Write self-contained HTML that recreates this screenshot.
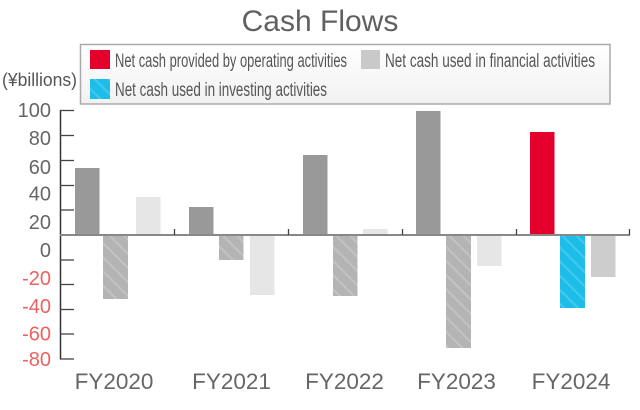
<!DOCTYPE html>
<html>
<head>
<meta charset="utf-8">
<style>
html,body{margin:0;padding:0;background:#fff;}
svg{display:block;}
text{font-family:"Liberation Sans",sans-serif;}
</style>
</head>
<body>
<svg width="640" height="410" viewBox="0 0 640 410" xmlns="http://www.w3.org/2000/svg">
<defs>
  <pattern id="hg" patternUnits="userSpaceOnUse" width="10" height="10" patternTransform="rotate(-45)">
    <rect width="10" height="10" fill="#b4b4b4"/>
    <rect x="0" y="0" width="2" height="10" fill="#c2c2c2"/>
  </pattern>
  <pattern id="hb" patternUnits="userSpaceOnUse" width="10" height="10" patternTransform="rotate(-45)">
    <rect width="10" height="10" fill="#1dbde9"/>
    <rect x="0" y="0" width="2" height="10" fill="#45c8ee"/>
  </pattern>
  <linearGradient id="lg" x1="0" y1="0" x2="0" y2="1">
    <stop offset="0" stop-color="#ffffff"/>
    <stop offset="1" stop-color="#f1f1f1"/>
  </linearGradient>
</defs>

<!-- Title -->
<text x="320" y="31" font-size="30" fill="#606060" text-anchor="middle">Cash Flows</text>

<!-- unit label -->
<text x="2" y="86" font-size="18" fill="#555" textLength="75" lengthAdjust="spacingAndGlyphs">(¥billions)</text>

<!-- Legend -->
<rect x="80.5" y="44.5" width="529.5" height="59.5" fill="url(#lg)" stroke="#aaa" stroke-width="1.5"/>
<rect x="90" y="50" width="20" height="19" fill="#e4002b"/>
<text x="115" y="67" font-size="19" fill="#555" textLength="232" lengthAdjust="spacingAndGlyphs">Net cash provided by operating activities</text>
<rect x="361" y="50" width="19" height="19" fill="#c9c9c9"/>
<text x="385" y="67" font-size="19" fill="#555" textLength="210" lengthAdjust="spacingAndGlyphs">Net cash used in financial activities</text>
<rect x="90" y="79" width="20" height="20" fill="url(#hb)"/>
<text x="115" y="96" font-size="19" fill="#555" textLength="212" lengthAdjust="spacingAndGlyphs">Net cash used in investing activities</text>

<!-- Y axis -->
<line x1="60.5" y1="110" x2="60.5" y2="359.5" stroke="#333" stroke-width="1.5"/>
<g stroke="#444" stroke-width="1.3">
  <line x1="60" y1="110.5" x2="74" y2="110.5"/>
  <line x1="60" y1="135.5" x2="74" y2="135.5"/>
  <line x1="60" y1="160.5" x2="74" y2="160.5"/>
  <line x1="60" y1="185.5" x2="74" y2="185.5"/>
  <line x1="60" y1="210" x2="74" y2="210"/>
  <line x1="60" y1="260" x2="74" y2="260"/>
  <line x1="60" y1="284.5" x2="74" y2="284.5"/>
  <line x1="60" y1="309.5" x2="74" y2="309.5"/>
  <line x1="60" y1="334" x2="74" y2="334"/>
  <line x1="60" y1="359" x2="74" y2="359"/>
</g>

<!-- Y labels -->
<g font-size="20" text-anchor="end">
  <text x="51" y="117" fill="#666">100</text>
  <text x="51" y="145" fill="#666">80</text>
  <text x="51" y="174" fill="#666">60</text>
  <text x="51" y="200.5" fill="#666">40</text>
  <text x="51" y="229" fill="#666">20</text>
  <text x="51" y="257" fill="#666">0</text>
  <text x="51" y="285" fill="#ec6262">-20</text>
  <text x="51" y="313" fill="#ec6262">-40</text>
  <text x="51" y="340.5" fill="#ec6262">-60</text>
  <text x="51" y="366" fill="#ec6262">-80</text>
</g>

<!-- Bars -->
<!-- FY2020 -->
<rect x="75" y="168" width="24.5" height="66" fill="#999"/>
<rect x="103" y="236" width="25" height="63" fill="url(#hg)"/>
<rect x="136" y="197" width="24.5" height="37" fill="#e6e6e6"/>
<!-- FY2021 -->
<rect x="189" y="207" width="24.5" height="27" fill="#999"/>
<rect x="219" y="236" width="24.5" height="24" fill="url(#hg)"/>
<rect x="250" y="236" width="24.5" height="59" fill="#e6e6e6"/>
<!-- FY2022 -->
<rect x="303" y="155" width="24.5" height="79" fill="#999"/>
<rect x="333" y="236" width="24.5" height="60" fill="url(#hg)"/>
<rect x="363" y="229" width="24.5" height="5" fill="#e6e6e6"/>
<!-- FY2023 -->
<rect x="416" y="111" width="24.5" height="123" fill="#999"/>
<rect x="446" y="236" width="25" height="112" fill="url(#hg)"/>
<rect x="477" y="236" width="24.5" height="30" fill="#e6e6e6"/>
<!-- FY2024 -->
<rect x="530" y="132" width="24.5" height="102" fill="#e4002b"/>
<rect x="560" y="236" width="25" height="72" fill="url(#hb)"/>
<rect x="591" y="236" width="24.5" height="41" fill="#cdcdcd"/>

<!-- Zero line -->
<line x1="60" y1="235" x2="630" y2="235" stroke="#888" stroke-width="2"/>
<g stroke="#444" stroke-width="1.3">
  <line x1="174.5" y1="229" x2="174.5" y2="235"/>
  <line x1="288.5" y1="229" x2="288.5" y2="235"/>
  <line x1="402.5" y1="229" x2="402.5" y2="235"/>
  <line x1="516.5" y1="229" x2="516.5" y2="235"/>
  <line x1="629.5" y1="229" x2="629.5" y2="235"/>
</g>

<!-- X labels -->
<g font-size="22.5" fill="#666" text-anchor="middle">
  <text x="114" y="389">FY2020</text>
  <text x="231.5" y="389">FY2021</text>
  <text x="344.5" y="389">FY2022</text>
  <text x="456.5" y="389">FY2023</text>
  <text x="571" y="389">FY2024</text>
</g>
</svg>
</body>
</html>
